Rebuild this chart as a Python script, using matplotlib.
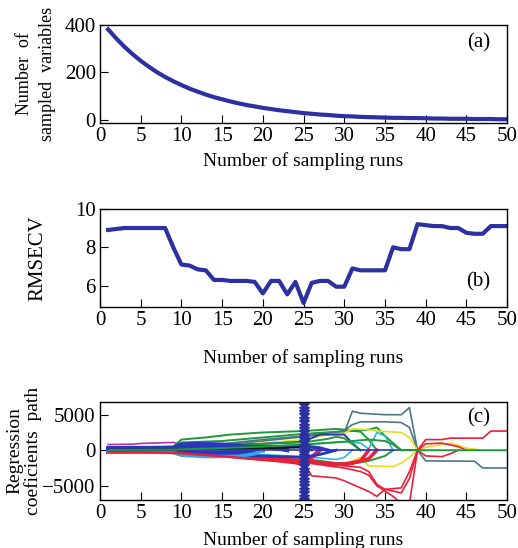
import numpy as np
import matplotlib
matplotlib.use("Agg")
import matplotlib.pyplot as plt

plt.rcParams['font.family'] = ['Liberation Serif', 'DejaVu Serif']

# ---- data ----
runs = list(range(1, 51))

# (a) number of sampled variables per run
n_vars = [380, 342, 307, 276, 248, 223, 200, 180, 162, 146,
          131, 118, 106, 95, 86, 77, 69, 62, 56, 50,
          45, 40, 36, 32, 28, 25, 22, 20, 17, 15,
          14, 12, 11, 10, 9, 8, 8, 7, 7, 6,
          5, 5, 4, 4, 4, 3, 3, 3, 2, 2]

# (b) RMSECV per run
rmsecv = [8.9, 8.95, 9.0, 9.0, 9.0, 9.0, 9.0, 9.0, 8.0, 7.1,
          7.05, 6.85, 6.8, 6.3, 6.3, 6.25, 6.25, 6.25, 6.2, 5.6,
          6.25, 6.25, 5.55, 6.2, 5.1, 6.15, 6.25, 6.25, 5.95, 5.95,
          6.9, 6.8, 6.8, 6.8, 6.8, 8.0, 7.9, 7.9, 9.2, 9.15,
          9.1, 9.1, 9.0, 9.0, 8.75, 8.7, 8.7, 9.1, 9.1, 9.1]

best_run = 25

# (c) regression coefficient paths: (run, coefficient) knots
coef_paths = [
    [(1, 800), (4, 850), (5, 950), (9, 1100), (10, 800), (13, 400), (16, 0)],
    [(1, 300), (9, 500), (10, 1500), (13, 1800), (16, 2200), (20, 2500), (25, 2700),
     (29, 3000), (30, 2900), (32, 2600), (33, 1500), (34, 0)],
    [(1, 200), (9, 400), (10, 1100), (15, 1300), (20, 1800), (25, 2300), (29, 2600),
     (31, 2700), (33, 2900), (34, 3200), (35, 2000), (36, 1000), (37, 0)],
    [(1, 100), (9, 200), (10, 600), (15, 900), (20, 1500), (25, 2000), (28, 2400),
     (30, 2500), (31, 5500), (32, 5200), (35, 5000), (37, 5000), (38, 6000), (39, 0),
     (40, -1500), (46, -1550), (47, -2500), (50, -2500)],
    [(1, 0), (9, 100), (15, 700), (20, 1300), (25, 1900), (28, 2300), (30, 2800),
     (31, 3600), (32, 4000), (35, 4000), (37, 3900), (38, 3200), (39, 0)],
    [(1, 0), (9, 200), (15, 600), (20, 1000), (25, 1500), (28, 2200), (30, 2400),
     (31, 3000), (33, 2900), (34, 2700), (37, 2500), (38, 1800), (39, 0), (40, 400),
     (43, 1000), (44, 700), (45, 300), (47, 0)],
    [(1, -100), (9, -200), (15, -600), (20, -1000), (25, -1300), (27, -1800), (30, -2000),
     (31, -1500), (32, -1000), (33, -2200), (36, -2300), (37, -1800), (38, -1000), (39, 0)],
    [(1, 100), (9, 200), (10, 500), (15, 700), (20, 900), (25, 1200), (27, 2200),
     (30, 2200), (31, 1000), (32, 0)],
    [(1, -100), (9, -200), (15, -400), (20, -600), (25, -900), (27, -1100), (29, -1300),
     (30, -1000), (31, 0)],
    [(25, 800), (30, 1200), (32, 1000), (33, 200), (34, 2500), (35, 2000), (36, 0)],
    [(25, -1200), (27, -1500), (29, -1800), (31, -1900), (33, -1500), (35, -800), (36, 0)],
    [(1, 100), (9, 150), (10, 400), (15, 600), (20, 900), (25, 1100), (28, 1600),
     (29, 1900), (30, 1700), (32, 0)],
    [(1, -100), (9, -200), (10, -300), (15, -600), (20, -1100), (25, -1500), (27, -1700),
     (29, -2000), (31, -1800), (33, -1200), (34, 0)],
    [(1, -250), (9, -300), (12, -500), (17, -900), (22, -1400), (25, -1600), (28, -1900),
     (30, -2000), (32, -1500), (33, 0)],
    [(1, -50), (9, -100), (10, -300), (15, -700), (20, -1200), (24, -1700), (25, -2000),
     (26, -1000), (27, 0)],
    [(1, 300), (9, 350), (10, 800), (12, 900), (15, 800), (17, 600), (19, 300), (20, 0)],
    [(1, -200), (9, -250), (10, -600), (13, -700), (16, -600), (18, -300), (19, 0)],
    [(1, 150), (9, 200), (10, 400), (15, 500), (18, 500), (21, 400), (23, 0)],
    [(1, -50), (9, -100), (10, -300), (15, -300), (17, -200), (18, 0)],
    [(1, 0), (9, 50), (10, 200), (16, 300), (22, 500), (25, 600), (27, 300), (28, 0)],
    [(1, -150), (9, -150), (12, -500), (17, -700), (22, -900), (25, -1000), (27, -600), (29, 0)],
    [(1, -250), (9, -300), (10, -700), (13, -900), (17, -850), (19, -500), (20, 0)],
    [(1, 50), (9, 100), (15, 200), (20, 300), (25, 400), (26, 0)],
    [(1, -200), (9, -300), (15, -800), (20, -1300), (25, -1800), (26, -3600), (29, -3900),
     (30, -4300), (33, -5800), (34, -6500), (35, -5500), (37, -5300), (38, -3000), (39, 0),
     (40, 1500), (42, 1500), (43, 1700), (47, 1700), (48, 2700), (50, 2700)],
    [(1, -300), (9, -400), (15, -900), (20, -1400), (25, -1700), (28, -2200), (30, -2500),
     (32, -3000), (33, -3500), (34, -5000), (36, -6500), (37, -7500), (38, -7500), (39, 0),
     (40, -800), (42, -900), (43, -500), (44, 0)],
    [(25, -1600), (30, -2200), (32, -2400), (33, -3000), (34, -4800), (35, -5500),
     (37, -6000), (38, -4000), (39, 0), (40, 900), (42, 1000), (44, 500), (45, 0)],
    [(1, 0), (9, 0), (20, 0), (25, 0), (39, 0)],
    [(1, 50), (9, 100), (15, 300), (20, 500), (25, 800), (30, 1200), (33, 1500),
     (35, 1300), (36, 800), (37, 0), (50, 0)],
]
path_colors = ['#b030b0', '#1f9a3a', '#1f9a3a', '#4a7880', '#4a7880', '#e8dc20',
               '#e8dc20', '#2a35b0', '#30b8d8', '#30b8d8', '#1f9a3a', '#1f9a3a',
               '#e8203a', '#e8203a', '#e8203a',
               '#2a35c0', '#2a35c0', '#2a35c0', '#2a35c0', '#2a35c0', '#2a35c0',
               '#30a8e0', '#111111', '#e8203a',
               '#e8203a', '#e8203a', '#2a35c0', '#1f9a3a']
path_widths = [1.2, 1.4, 1.4, 1.2, 1.2, 1.2, 1.2, 1.4, 1.2, 1.2, 1.4, 1.4,
               2.5, 2.5, 3.0,
               3.0, 3.0, 3.0, 2.5, 2.5, 2.0, 2.5, 1.5, 1.2,
               1.2, 1.2, 1.2, 1.4]

blue = '#2b31a0'
fig = plt.figure(figsize=(5.18, 5.48), dpi=100)

def style(ax):
    ax.set_xlim(0, 50)
    ax.set_xticks(range(0, 51, 5))
    ax.tick_params(direction='in', length=6, labelsize=15, top=False, right=False, pad=3)
    for s in ax.spines.values():
        s.set_linewidth(1.0)

# panel (a)
ax1 = fig.add_axes([0.193, 0.775, 0.786, 0.180])
ax1.plot(runs, n_vars, color=blue, lw=3)
style(ax1)
ax1.set_ylim(-15, 400)
ax1.set_yticks([0, 200, 400])
ax1.set_xlabel('Number of sampling runs', fontsize=14, labelpad=4)
ax1.set_ylabel('Number  of\nsampled  variables', fontsize=13, labelpad=6, linespacing=1.5)
ax1.text(0.93, 0.82, '(a)', transform=ax1.transAxes, fontsize=15, ha='center', va='center')

# panel (b)
ax2 = fig.add_axes([0.193, 0.440, 0.786, 0.179])
ax2.plot(runs, rmsecv, color=blue, lw=3)
style(ax2)
ax2.set_ylim(4.9, 10)
ax2.set_yticks([6, 8, 10])
ax2.set_xlabel('Number of sampling runs', fontsize=14, labelpad=14)
ax2.set_ylabel('RMSECV', fontsize=15, labelpad=20)
ax2.text(0.93, 0.25, '(b)', transform=ax2.transAxes, fontsize=15, ha='center', va='center')

# panel (c)
ax3 = fig.add_axes([0.193, 0.0876, 0.786, 0.179])
for path, c, w in zip(coef_paths, path_colors, path_widths):
    xs = [p[0] for p in path]
    ys = [p[1] for p in path]
    ax3.plot(xs, ys, color=c, lw=w)
style(ax3)
ax3.set_ylim(-7000, 6800)
ax3.set_yticks([-5000, 0, 5000])
ax3.set_yticklabels(['\u22125000', '0', '5000'])
ylo, yhi = ax3.get_ylim()
ax3.plot([best_run] * 30, np.linspace(ylo, yhi, 30), color=blue, lw=2.5,
         marker='*', markersize=8)
ax3.set_xlabel('Number of sampling runs', fontsize=14, labelpad=6)
ax3.set_ylabel('Regression\ncoeficients  path', fontsize=14, labelpad=0, linespacing=1.1)
ax3.text(0.93, 0.84, '(c)', transform=ax3.transAxes, fontsize=15, ha='center', va='center')

fig.savefig('out.png', dpi=100)
